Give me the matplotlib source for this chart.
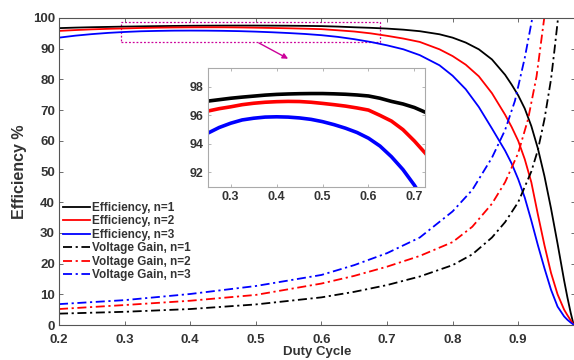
import numpy as np
import matplotlib.pyplot as plt
from matplotlib.patches import Rectangle

plt.rcParams['font.family'] = ['Liberation Sans', 'DejaVu Sans']
plt.rcParams['font.weight'] = 'bold'

# efficiency curves
d_eff = [0.2, 0.225, 0.25, 0.275, 0.3, 0.325, 0.35, 0.375, 0.4, 0.425, 0.45, 0.475, 0.5, 0.525,
         0.55, 0.575, 0.6, 0.625, 0.65, 0.675, 0.7, 0.725, 0.75, 0.78, 0.8, 0.82, 0.84, 0.86,
         0.88, 0.89, 0.9, 0.91, 0.92, 0.93, 0.94, 0.95, 0.96, 0.97, 0.975, 0.98, 0.984]
eff_n1 = [96.7, 96.87, 97.0, 97.1, 97.2, 97.28, 97.35, 97.42, 97.47, 97.5, 97.52, 97.53, 97.53, 97.51,
          97.48, 97.43, 97.36, 97.2, 96.98, 96.8, 96.55, 96.2, 95.7, 94.7, 93.6, 92.0, 89.8, 86.5,
          81.5, 78.3, 74.8, 70.5, 64.8, 57.5, 48.5, 38.0, 26.5, 14.5, 9.0, 4.0, 0.5]
eff_n2 = [95.8, 96.07, 96.3, 96.47, 96.6, 96.75, 96.85, 96.92, 96.96, 96.98, 96.97, 96.92, 96.84, 96.75,
          96.65, 96.52, 96.37, 96.0, 95.6, 95.0, 94.2, 93.3, 92.2, 89.8, 87.6, 84.8, 81.0, 75.5,
          68.5, 64.5, 60.0, 54.0, 46.5, 36.0, 26.0, 17.0, 10.0, 5.0, 3.2, 1.5, 0.3]
eff_n3 = [93.6, 94.25, 94.75, 95.15, 95.45, 95.68, 95.8, 95.88, 95.9, 95.88, 95.82, 95.72, 95.56, 95.35,
          95.1, 94.8, 94.4, 93.85, 93.1, 92.2, 91.1, 89.8, 87.9, 84.6, 81.2, 76.8, 71.0, 64.0,
          56.8, 52.6, 47.5, 41.5, 34.0, 26.0, 18.5, 11.5, 6.0, 2.8, 1.7, 0.8, 0.2]

# voltage gain curves
d_g1 = [0.2, 0.3, 0.4, 0.5, 0.6, 0.65, 0.7, 0.75, 0.8, 0.83, 0.86, 0.88, 0.9, 0.92, 0.93, 0.94, 0.95, 0.955, 0.961]
gain_n1 = [3.7, 4.3, 5.2, 6.7, 9.0, 10.8, 13.0, 15.8, 19.5, 23.0, 28.5, 33.5, 40.0, 50.0, 57.0, 67.0, 80.0, 89.0, 100.5]
d_g2 = [0.2, 0.3, 0.4, 0.5, 0.6, 0.65, 0.7, 0.75, 0.8, 0.83, 0.86, 0.88, 0.9, 0.915, 0.928, 0.94]
gain_n2 = [5.2, 6.5, 7.9, 9.8, 13.5, 16.0, 19.0, 22.5, 27.0, 32.0, 39.5, 46.5, 56.0, 67.0, 81.0, 100.5]
d_g3 = [0.2, 0.3, 0.4, 0.5, 0.6, 0.65, 0.7, 0.75, 0.8, 0.83, 0.86, 0.88, 0.895, 0.91, 0.922]
gain_n3 = [6.8, 8.1, 10.1, 12.7, 16.3, 19.5, 23.4, 28.5, 37.0, 44.0, 54.5, 63.5, 73.0, 87.0, 100.5]

dashdot = (0, (5, 2, 1.2, 2))
gray = '#555555'
txt = '#333333'

fig = plt.figure(figsize=(5.74, 3.6), dpi=100)
ax = fig.add_axes([59/574, 1-325/360, (575-59)/574, (325-18)/360])

ax.plot(d_eff, eff_n1, color='k', lw=1.3, label='Efficiency, n=1')
ax.plot(d_eff, eff_n2, color='r', lw=1.3, label='Efficiency, n=2')
ax.plot(d_eff, eff_n3, color='b', lw=1.3, label='Efficiency, n=3')
ax.plot(d_g1, gain_n1, color='k', lw=1.3, ls=dashdot, label='Voltage Gain, n=1')
ax.plot(d_g2, gain_n2, color='r', lw=1.3, ls=dashdot, label='Voltage Gain, n=2')
ax.plot(d_g3, gain_n3, color='b', lw=1.3, ls=dashdot, label='Voltage Gain, n=3')

ax.set_xlim(0.2, 0.2 + (575-59)/656)
ax.set_ylim(0, 100)
ax.set_xticks(np.arange(0.2, 0.95, 0.1))
ax.set_yticks(np.arange(0, 101, 10))
ax.tick_params(direction='in', top=True, right=True, length=3, width=0.6,
               colors=gray, labelcolor=txt, labelsize=9.5, pad=3)
ax.tick_params(axis='x', pad=6.5)
for s in ax.spines.values():
    s.set_color(gray)
    s.set_linewidth(0.8)
for lb in ax.get_xticklabels() + ax.get_yticklabels():
    lb.set_fontweight('bold')
ax.set_xlabel('Duty Cycle', fontsize=9.5, fontweight='bold', color=txt, labelpad=0)
ax.set_ylabel('Efficiency %', fontsize=11.5, fontweight='bold', color=txt, labelpad=4)

leg = ax.legend(loc='upper left', bbox_to_anchor=(63/574, 1-202/360), bbox_transform=fig.transFigure,
                frameon=False, fontsize=8.5, handlelength=2.3, handletextpad=0.15, labelspacing=0.12,
                borderpad=0, borderaxespad=0)
for t in leg.get_texts():
    t.set_color(txt)
    t.set_fontweight('bold')

# zoom box and arrow
mag = '#cc0099'
ax.add_patch(Rectangle((0.295, 92.3), 0.394, 6.4, fill=False, ec=mag, lw=0.9, ls=(0, (1.5, 1.5))))
ax.annotate('', xy=(0.553, 86.3), xytext=(0.501, 92.3),
            arrowprops=dict(arrowstyle='-|>', color=mag, lw=1.0, mutation_scale=8))

# inset
axi = fig.add_axes([207.7/574, 1-186.7/360, (425-207.7)/574, (186.7-68.3)/360])
axi.plot(d_eff, eff_n1, color='k', lw=2.6)
axi.plot(d_eff, eff_n2, color='r', lw=2.6)
axi.plot(d_eff, eff_n3, color='b', lw=2.6)
axi.set_xlim(0.25, 0.723)
axi.set_ylim(91.0, 99.3)
axi.set_xticks([0.3, 0.4, 0.5, 0.6, 0.7])
axi.set_yticks([92, 94, 96, 98])
axi.tick_params(direction='in', top=True, right=True, length=2.5, width=0.5,
                colors='#999999', labelcolor=txt, labelsize=9, pad=3)
for s in axi.spines.values():
    s.set_color('#aaaaaa')
    s.set_linewidth(0.8)
for lb in axi.get_xticklabels() + axi.get_yticklabels():
    lb.set_fontweight('bold')

fig.savefig('out.png', dpi=100)
